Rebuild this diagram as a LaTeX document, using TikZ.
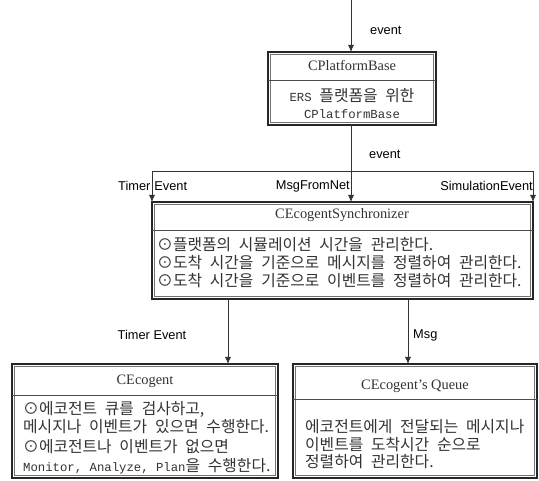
\documentclass[tikz,border=0pt]{standalone}
\usepackage{fontspec}
\setmainfont{Liberation Serif}
\newfontfamily\kr{Noto Sans CJK KR}
\newfontfamily\mono{Liberation Mono}
\newfontfamily\lab{Liberation Sans}
\usetikzlibrary{arrows.meta}
\newcommand\ks{\hspace{7.8pt}}
\begin{document}
\begin{tikzpicture}[x=1pt,y=-1pt,
  box/.style={draw=black!85, line width=2pt, fill=white, inner sep=0pt, outer sep=0pt, anchor=north west},
  inr/.style={draw=black!55, line width=0.6pt},
  divl/.style={draw=black!70, line width=0.8pt},
  ttl/.style={font=\fontsize{14.4}{16}\selectfont, inner sep=0pt, text=black!80},
  kt/.style={font={\fontsize{15.8}{17}\kr}, inner sep=0pt, text=black!80, anchor=west},
  ktc/.style={font={\fontsize{15.8}{17}\kr}, inner sep=0pt, text=black!80},
  lbl/.style={font=\fontsize{12.8}{14}\lab, inner sep=0pt, text=black},
  con/.style={draw=black!80, line width=0.8pt},
  arr/.style={con, -{Latex[length=7pt,width=6pt]}}
]
\useasboundingbox (0,0) rectangle (539,481);

% boxes
\node[box, minimum width=168pt, minimum height=73pt] (pb) at (268,52) {};
\node[box, minimum width=381pt, minimum height=97pt] (sync) at (152,202) {};
\node[box, minimum width=266pt, minimum height=114pt] (ce) at (12,364) {};
\node[box, minimum width=244pt, minimum height=114pt] (qu) at (293,364) {};
\foreach \b in {pb,sync,ce,qu}
  \draw[inr] ([shift={(2.6,2.6)}]\b.north west) rectangle ([shift={(-2.6,-2.6)}]\b.south east);

% dividers
\draw[divl] (268,80) -- (436,80);
\draw[divl] (152,230) -- (533,230);
\draw[divl] (12,395) -- (278,395);
\draw[divl] (293,399) -- (537,399);

% titles
\node[ttl] (pbt) at (352,66) {CPlatformBase};
\node[ttl] (synct) at (342,215) {CEcogentSynchronizer};
\node[ttl] (cet) at (145,381) {CEcogent};
\node[ttl] (qut) at (415,386) {CEcogent’s Queue};

% CPlatformBase body
\node[ktc] (pb1) at (352,96) {{\fontsize{12.3}{14}\mono ERS}\ks 플랫폼을\ks 위한};
\node[ktc] (pb2) at (352,114) {{\fontsize{12.3}{14}\mono CPlatformBase}};

% Sync body
\node[kt] (s1) at (157,245) {⊙플랫폼의\ks 시뮬레이션\ks 시간을\ks 관리한다.};
\node[kt] (s2) at (157,263) {⊙도착\ks 시간을\ks 기준으로\ks 메시지를\ks 정렬하여\ks 관리한다.};
\node[kt] (s3) at (157,281) {⊙도착\ks 시간을\ks 기준으로\ks 이벤트를\ks 정렬하여\ks 관리한다.};

% CEcogent body
\node[kt] (c1) at (23,409) {⊙에코전트\ks 큐를\ks 검사하고,};
\node[kt] (c2) at (23,427) {메시지나\ks 이벤트가\ks 있으면\ks 수행한다.};
\node[kt] (c3) at (23,447) {⊙에코전트나\ks 이벤트가\ks 없으면};
\node[kt] (c4) at (23,466) {{\fontsize{12.3}{14}\mono Monitor, Analyze, Plan}을\ks 수행한다.};

% Queue body
\node[kt] (q1) at (305,427) {에코전트에게\ks 전달되는\ks 메시지나};
\node[kt] (q2) at (305,445) {이벤트를\ks 도착시간\ks 순으로};
\node[kt] (q3) at (305,462) {정렬하여\ks 관리한다.};

% connectors
\coordinate (top) at (351,0);
\draw[arr] (top) -- (top |- pb.north);
\node[lbl, anchor=west] (ev1) at (370,30) {event};

\coordinate (j) at (351,171);
\coordinate (jl) at (152,171);
\coordinate (jr) at (533,171);
\draw[con] (pb.south -| j) -- (j);
\draw[con] (jl) -- (jr);
\draw[arr] (jl) -- (sync.north west);
\draw[arr] (j) -- (j |- sync.north);
\draw[arr] (jr) -- (sync.north east);
\node[lbl, anchor=west] (ev2) at (369,154) {event};
\node[lbl, anchor=west] (lt) at (118,186) {Timer\hspace{4pt}Event};
\node[lbl, anchor=east] (lm) at (350,186) {MsgFromNet};
\node[lbl, anchor=east] (ls) at (533,186) {SimulationEvent};

\coordinate (b1) at (228,299);
\coordinate (b2) at (408,299);
\draw[arr] (b1) -- (b1 |- ce.north);
\draw[arr] (b2) -- (b2 |- qu.north);
\node[lbl] (lte) at (152,335) {Timer Event};
\node[lbl, anchor=west] (lmsg) at (413,335) {Msg};
\end{tikzpicture}
\end{document}
